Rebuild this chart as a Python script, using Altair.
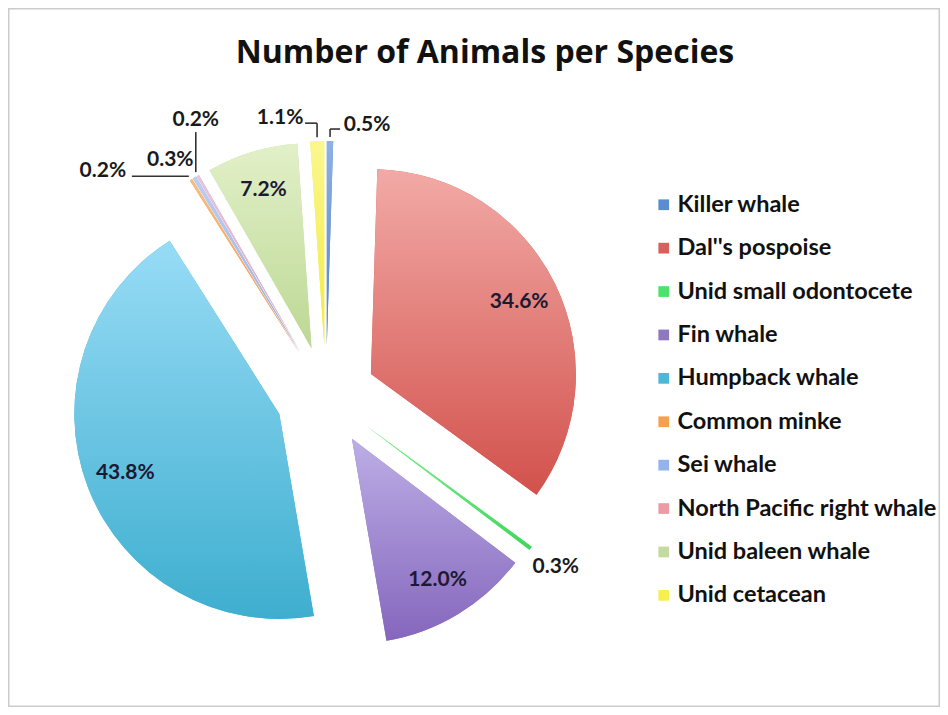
import math
import altair as alt
import pandas as pd

# ---------------- data ----------------
species = [
    "Killer whale",
    "Dal''s pospoise",
    "Unid small odontocete",
    "Fin whale",
    "Humpback whale",
    "Common minke",
    "Sei whale",
    "North Pacific right whale",
    "Unid baleen whale",
    "Unid cetacean",
]
percent = [0.5, 34.6, 0.3, 12.0, 43.8, 0.2, 0.3, 0.2, 7.2, 1.1]

# legend / base colours and gradient stops (top -> bottom)
solid_colors = ["#5b8bd0", "#d95f5c", "#4de26a", "#8e78bf", "#4bb8d8",
                "#f5a050", "#93b3ea", "#ee9aa4", "#c3dba0", "#f8ee50"]
grad_top = ["#8fb2e6", "#f2aaa6", "#86f295", "#bcaee5", "#98dcf6",
            "#f8bc80", "#bccff2", "#e6c6dc", "#e2f0c8", "#fbf78e"]
grad_bottom = ["#4f7fc4", "#d2514c", "#3fd65a", "#8566bd", "#3eaecf",
               "#f09a50", "#8eaee6", "#d8a8c0", "#bcd894", "#f2ea40"]

# ---------------- label layout (not data) ----------------
# inside: label along slice bisector; outside: offset from slice tip, with optional elbow leader
label_inside = [False, True, False, True, True, False, False, False, True, False]
label_dx = [37, 0, 22, 0, 0, -86, -22, 0, 0, -37]
label_dy = [-12, 0, 16, 0, 0, -5, -14, -52, 0, -19]
leader = [True, False, False, False, False, True, False, True, False, True]
leader_ax = [10, 0, 0, 0, 0, -57, 0, 0, 0, -12]
leader_ay = [-8, 0, 0, 0, 0, 0, 0, -40, 0, -14]

CX, CY = 318, 388      # pie centre (chart coords)
R = 205                # pie radius
EXPLODE = 50           # explode distance
R_IN = 165             # inside label radius
R_TIP = 209            # tip radius for outside labels

df = pd.DataFrame({
    "species": species,
    "pct": percent,
    "order": list(range(len(species))),
    "inside": label_inside,
    "ldx": label_dx,
    "ldy": label_dy,
    "leader": leader,
    "ax": leader_ax,
    "ay": leader_ay,
})

base = (
    alt.Chart(df)
    .transform_window(cum="sum(pct)", sort=[alt.SortField("order")], frame=[None, 0])
    .transform_joinaggregate(total="sum(pct)")
    .transform_calculate(
        f1="datum.cum / datum.total",
        f0="(datum.cum - datum.pct) / datum.total",
    )
    .transform_calculate(mid="PI * (datum.f0 + datum.f1)")
    .transform_calculate(
        cx=f"{CX} + {EXPLODE} * sin(datum.mid)",
        cy=f"{CY} - {EXPLODE} * cos(datum.mid)",
    )
    .transform_calculate(
        px=f"datum.cx + {R_TIP} * sin(datum.mid)",
        py=f"datum.cy - {R_TIP} * cos(datum.mid)",
        label="format(datum.pct, '.1f') + '%'",
    )
    .transform_calculate(
        lx=f"datum.inside ? datum.cx + {R_IN} * sin(datum.mid) : datum.px + datum.ldx",
        ly=f"datum.inside ? datum.cy - {R_IN} * cos(datum.mid) : datum.py + datum.ldy",
        ey="datum.py + datum.ay",
        ex="datum.px + datum.ax",
    )
)

theta_enc = alt.Theta("f0:Q", stack=None,
                      scale=alt.Scale(domain=[0, 1], range=[0, 2 * math.pi]))
x_enc = alt.X("cx:Q", scale=None, axis=None)
y_enc = alt.Y("cy:Q", scale=None, axis=None)

arcs = base.mark_arc(radius=R).encode(
    x=x_enc,
    y=y_enc,
    theta=theta_enc,
    theta2="f1:Q",
    color=alt.Color(
        "species:N",
        scale=alt.Scale(domain=species, range=solid_colors),
        legend=alt.Legend(
            title=None,
            orient="none",
            legendX=644,
            legendY=185,
            symbolType="square",
            symbolSize=115,
            symbolStrokeWidth=0,
            symbolOpacity=1,
            labelFont="Lato",
            labelFontSize=23.5,
            labelFontWeight="bold",
            labelColor="#111111",
            labelOffset=2,
            rowPadding=18.4,
            labelLimit=400,
            padding=0,
        ),
    ),
)

grad_layers = []
for i in range(len(species)):
    grad_layers.append(
        base.transform_filter(alt.datum.order == i)
        .mark_arc(
            radius=R,
            fill=alt.LinearGradient(
                gradient="linear",
                stops=[alt.GradientStop(color=grad_top[i], offset=0),
                       alt.GradientStop(color=grad_bottom[i], offset=1)],
                x1=0, x2=0, y1=0, y2=1,
            ),
        )
        .encode(x=x_enc, y=y_enc, theta=theta_enc, theta2="f1:Q")
    )

lead = base.transform_filter("datum.leader")
leader_v = lead.mark_rule(color="#333333", strokeWidth=1.6).encode(
    x=alt.X("px:Q", scale=None, axis=None),
    y=alt.Y("py:Q", scale=None, axis=None),
    y2="ey:Q",
)
leader_h = lead.mark_rule(color="#333333", strokeWidth=1.6).encode(
    x=alt.X("px:Q", scale=None, axis=None),
    x2="ex:Q",
    y=alt.Y("ey:Q", scale=None, axis=None),
)

labels = base.mark_text(
    font="Lato", fontSize=21, fontWeight="bold", align="center", baseline="middle"
).encode(
    x=alt.X("lx:Q", scale=None, axis=None),
    y=alt.Y("ly:Q", scale=None, axis=None),
    text="label:N",
    color=alt.condition("datum.inside", alt.value("#1c1a33"), alt.value("#1a1a1a")),
)

title_text = "Number of Animals per Species"
title = alt.Chart(pd.DataFrame({"t": [title_text]})).mark_text(
    font="Open Sans", fontSize=32, fontWeight="bold", color="#111111",
    align="center", baseline="alphabetic",
).encode(x=alt.value(477), y=alt.value(55), text="t:N")

chart = (
    alt.layer(arcs, *grad_layers, leader_v, leader_h, labels, title)
    .properties(width=932, height=699, autosize=alt.AutoSizeParams(type="none"), padding=0)
    .configure_view(stroke="#cccccc", strokeWidth=3)
)

chart.save("out.html", embed_options={"renderer": "svg", "actions": False})
